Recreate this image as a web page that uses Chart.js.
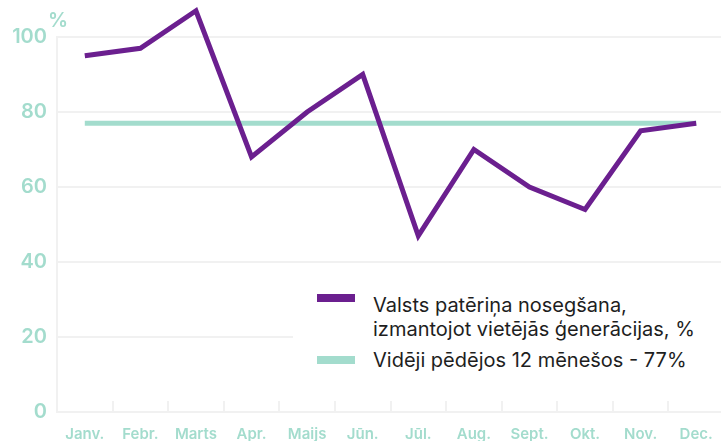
<!DOCTYPE html>
<html>
<head>
<meta charset="utf-8">
<script src="https://cdn.jsdelivr.net/npm/chart.js@4/dist/chart.umd.min.js"></script>
<style>
    body { margin: 0; background: #fff; }
    .wrap { position: relative; width: 721px; height: 441px; overflow: hidden; }
    .Legend {
        position: absolute; left: 293px; top: 268px; width: 428px; height: 130px;
        background: #fff; font-family: Inter, sans-serif; font-size: 20px; color: #1e1e1e;
    }
    .Legend .item { position: absolute; left: 24px; display: flex; }
    .Legend .swatch { width: 38px; height: 8px; margin-right: 18px; flex: none; }
    .Legend .text { line-height: 24px; white-space: nowrap; }
</style>
</head>
<body>
<div class="wrap">
    <canvas id="Chart" width="724" height="441"></canvas>
    <div class="Legend"></div>
</div>
<script>
const months = ['Janv.', 'Febr.', 'Marts', 'Apr.', 'Maijs', 'Jūn.', 'Jūl.', 'Aug.', 'Sept.', 'Okt.', 'Nov.', 'Dec.'];
const coverage = [95, 97, 107, 68, 80, 90, 47, 70, 60, 54, 75, 77];
const average = [77, 77, 77, 77, 77, 77, 77, 77, 77, 77, 77, 77];
const yTicks = [0, 20, 40, 60, 80, 100];
const seriesNames = ['Valsts patēriņa nosegšana,\nizmantojot vietējās ģenerācijas, %', 'Vidēji pēdējos 12 mēnešos - 77%'];

const purple = '#6b1f8f';
const teal = '#a3dccd';
const grey = '#f1f1f1';

// legend as html on top of the chart
let legend = document.querySelector(".Legend")
let tops = [25, 80]
let swatchTops = [1, 8]
let colors = [purple, teal]
seriesNames.forEach(function(name, i){
    let item = document.createElement("div")
    item.className = "item"
    item.style.top = tops[i] + "px"
    let sw = document.createElement("div")
    sw.className = "swatch"
    sw.style.background = colors[i]
    sw.style.marginTop = swatchTops[i] + "px"
    let txt = document.createElement("div")
    txt.className = "text"
    txt.innerHTML = name.replace("\n", "<br>")
    item.appendChild(sw)
    item.appendChild(txt)
    legend.appendChild(item)
})

const percentLabel = {
    id: 'percentLabel',
    afterDraw(chart) {
        let ctx = chart.ctx
        ctx.save()
        ctx.fillStyle = teal
        ctx.font = '600 20px Inter'
        ctx.textAlign = 'center'
        ctx.textBaseline = 'alphabetic'
        ctx.fillText('%', chart.chartArea.left + 1, chart.chartArea.top - 10)
        ctx.restore()
    }
}

var ctx = document.getElementById('Chart').getContext('2d');
var myChart = new Chart(ctx, {
    type: 'line',
    data: {
        labels: months,
        datasets: [{
            label: seriesNames[0],
            data: coverage,
            borderColor: purple,
            borderWidth: 5,
            pointRadius: 0,
            tension: 0,
            borderJoinStyle: 'miter',
            clip: false
        }, {
            label: seriesNames[1],
            data: average,
            borderColor: teal,
            borderWidth: 5,
            pointRadius: 0,
            clip: false
        }]
    },
    options: {
        responsive: false,
        animation: false,
        layout: { padding: { top: 37, right: 0, left: 0, bottom: 0 } },
        plugins: { legend: { display: false }, tooltip: { enabled: false } },
        scales: {
            x: {
                offset: true,
                grid: { drawOnChartArea: false, color: grey, lineWidth: 2, tickLength: -11, offset: true },
                border: { color: grey, width: 2 },
                ticks: { color: teal, font: { family: 'Inter', size: 15, weight: '600' }, padding: 24, maxRotation: 0, autoSkip: false },
                afterFit(scale) {
                    scale.height = 29
                    scale.paddingLeft = 0
                    scale.paddingRight = 0
                }
            },
            y: {
                min: 0,
                max: 100,
                afterBuildTicks(scale) { scale.ticks = yTicks.map(v => ({ value: v })) },
                grid: { color: grey, lineWidth: 2, drawTicks: false },
                border: { color: grey, width: 2 },
                ticks: { color: teal, font: { family: 'Inter', size: 20, weight: '600' }, padding: 10 },
                afterFit(scale) {
                    scale.width = 57
                    scale.paddingTop = 0
                    scale.paddingBottom = 0
                }
            }
        }
    },
    plugins: [percentLabel]
});
</script>
</body>
</html>
